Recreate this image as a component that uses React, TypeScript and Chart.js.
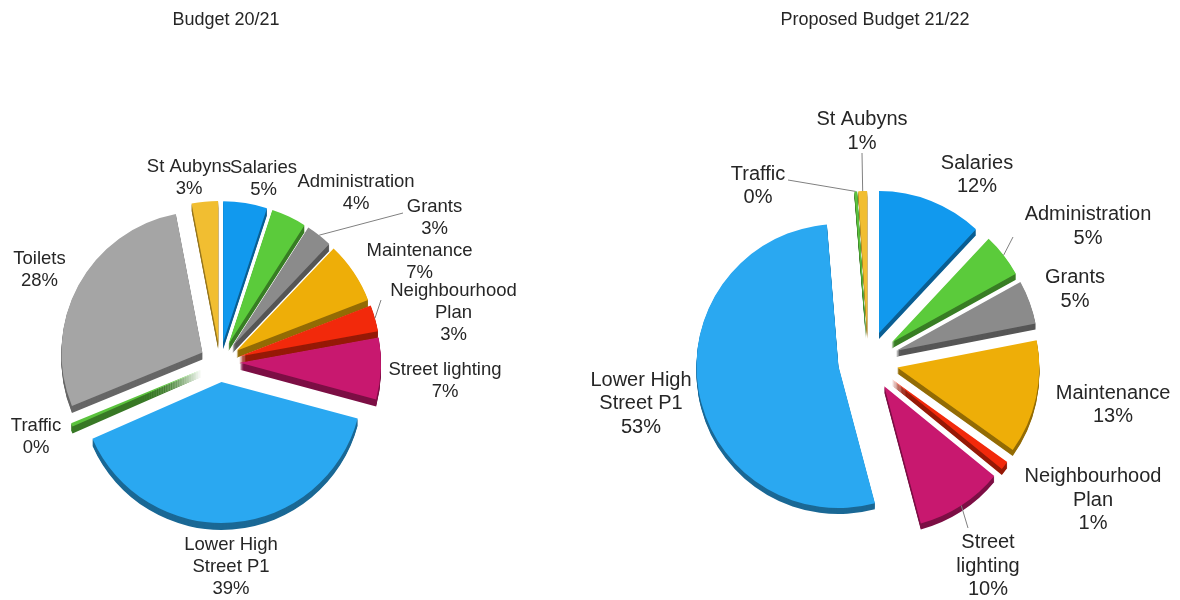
import React, { useEffect, useRef } from 'react';
import { Chart, registerables } from 'chart.js';

Chart.register(...registerables);

// ---------- DATA ----------
const TITLE_2021 = 'Budget 20/21';
const CATEGORIES_2021 = [
  'Salaries', 'Administration', 'Grants', 'Maintenance', 'Neighbourhood Plan',
  'Street lighting', 'Lower High Street P1', 'Traffic', 'Toilets', 'St Aubyns',
];
const VALUES_2021 = [5, 4, 3, 7, 3, 7, 39, 0.4, 28, 3];

const TITLE_2122 = 'Proposed Budget 21/22';
const CATEGORIES_2122 = [
  'Salaries', 'Administration', 'Grants', 'Maintenance', 'Neighbourhood Plan',
  'Street lighting', 'Lower High Street P1', 'Traffic', 'St Aubyns',
];
const VALUES_2122 = [12, 5, 5, 13, 1, 10, 53, 0.3, 1];

// ---------- STYLE ----------
const COLORS: Record<string, string> = {
  'Salaries': '#1199ee',
  'Administration': '#5bcb3b',
  'Grants': '#8b8b8b',
  'Maintenance': '#eeae08',
  'Neighbourhood Plan': '#f2290b',
  'Street lighting': '#c8186f',
  'Lower High Street P1': '#2aa8f1',
  'Traffic': '#5bc33d',
  'Toilets': '#a5a5a5',
  'St Aubyns': '#f1be31',
};
const TEXT_COLOR = '#262626';
const LEADER_COLOR = '#808080';
const FONT_FAMILY = '"Liberation Sans", Arial, sans-serif';

type Pt = [number, number];

interface PieLayout {
  width: number;
  height: number;
  padding: { left: number; right: number; top: number; bottom: number };
  radius: number;
  explode: number[];
  depth: number;
  labelFont: number;
  lineHeight: number;
  wrapWidth: number;
  labelPos: Pt[];
  leaders: (Pt | null)[];
  titleOffsetX: number;
  titleY: number;
}

const LAYOUT_2021: PieLayout = {
  width: 590,
  height: 600,
  padding: { left: 0, right: 150, top: 124, bottom: 0 },
  radius: 141,
  explode: [20, 20, 20, 20, 20, 20, 20, 20, 20, 20],
  depth: 7,
  labelFont: 18.5,
  lineHeight: 22,
  wrapWidth: 125,
  labelPos: [
    [43.5, -183.5], [136, -169.5], [214.5, -144.5], [199.5, -100.5], [233.5, -49],
    [225, 19], [11, 204.5], [-184, 75], [-180.5, -92.5], [-31, -184.5],
  ],
  leaders: [null, null, [-31.5, -4.5], null, [-72.5, -13], null, null, null, null, null],
  titleOffsetX: 6,
  titleY: 20,
};

const LAYOUT_2122: PieLayout = {
  width: 590,
  height: 600,
  padding: { left: 0, right: 34, top: 122, bottom: 0 },
  radius: 142,
  explode: [30, 30, 30, 30, 30, 30, 30, 28, 28],
  depth: 6,
  labelFont: 20,
  lineHeight: 23.5,
  wrapWidth: 110,
  labelPos: [
    [109, -186], [220, -134.5], [207, -71.5], [245, 44], [225, 139],
    [120, 205], [-227, 42.5], [-110, -175], [-6, -229.5],
  ],
  leaders: [null, [-75, 10.5], null, null, null, [-20, -38], null, [30, -6], [0, 21.5]],
  titleOffsetX: 7,
  titleY: 20,
};

function wrapText(ctx: CanvasRenderingContext2D, text: string, maxW: number): string[] {
  const words = text.split(' ');
  const lines: string[] = [];
  let cur = '';
  for (const w of words) {
    const test = cur ? cur + ' ' + w : w;
    if (cur && ctx.measureText(test).width > maxW) {
      lines.push(cur);
      cur = w;
    } else {
      cur = test;
    }
  }
  if (cur) lines.push(cur);
  return lines;
}

function makePie(canvas: HTMLCanvasElement, title: string, cats: string[], vals: number[], L: PieLayout) {
  const total = vals.reduce((a, b) => a + b, 0);

  const shiftOf = (arc: any, i: number): Pt => {
    const mid = (arc.startAngle + arc.endAngle) / 2;
    const o = L.explode[i] || 0;
    return [Math.cos(mid) * o, Math.sin(mid) * o];
  };

  const explode3d = {
    id: 'explode3d',
    beforeDatasetsDraw(chart: any) {
      const ctx: CanvasRenderingContext2D = chart.ctx;
      const arcs = chart.getDatasetMeta(0).data as any[];
      // sides (extrusion)
      ctx.save();
      ctx.filter = 'brightness(0.62)';
      for (let d = L.depth; d >= 1; d--) {
        arcs.forEach((a, i) => {
          const [dx, dy] = shiftOf(a, i);
          ctx.save();
          ctx.translate(dx, dy + d);
          a.draw(ctx);
          ctx.restore();
        });
      }
      ctx.restore();
      // tops
      arcs.forEach((a, i) => {
        const [dx, dy] = shiftOf(a, i);
        ctx.save();
        ctx.translate(dx, dy);
        a.draw(ctx);
        ctx.restore();
      });
      return false;
    },
  };

  const labels = {
    id: 'pieLabels',
    afterDraw(chart: any) {
      const ctx: CanvasRenderingContext2D = chart.ctx;
      const arcs = chart.getDatasetMeta(0).data as any[];
      const cx = arcs[0].x;
      const cy = arcs[0].y;
      ctx.save();
      ctx.fillStyle = TEXT_COLOR;
      ctx.textAlign = 'center';
      ctx.textBaseline = 'middle';
      ctx.font = `18px ${FONT_FAMILY}`;
      ctx.fillText(title, cx + L.titleOffsetX, L.titleY);

      ctx.font = `${L.labelFont}px ${FONT_FAMILY}`;
      arcs.forEach((a, i) => {
        const pct = Math.round((vals[i] / total) * 100);
        const lines = [...wrapText(ctx, cats[i], L.wrapWidth), `${pct}%`];
        const [lx, ly] = [cx + L.labelPos[i][0], cy + L.labelPos[i][1]];
        const n = lines.length;
        lines.forEach((t, k) => {
          ctx.fillText(t, lx, ly + (k - (n - 1) / 2) * L.lineHeight);
        });
        const lead = L.leaders[i];
        if (lead) {
          const [dx, dy] = shiftOf(a, i);
          const mid = (a.startAngle + a.endAngle) / 2;
          const sx = a.x + dx + Math.cos(mid) * a.outerRadius;
          const sy = a.y + dy + Math.sin(mid) * a.outerRadius;
          ctx.beginPath();
          ctx.strokeStyle = LEADER_COLOR;
          ctx.lineWidth = 1;
          ctx.moveTo(sx, sy);
          ctx.lineTo(lx + lead[0], ly + lead[1]);
          ctx.stroke();
        }
      });
      ctx.restore();
    },
  };

  return new Chart(canvas, {
    type: 'pie',
    data: {
      labels: cats,
      datasets: [
        {
          data: vals,
          backgroundColor: cats.map((c) => COLORS[c]),
          borderWidth: 0,
          offset: 0,
        },
      ],
    },
    options: {
      responsive: false,
      animation: false,
      events: [],
      radius: L.radius,
      layout: { padding: L.padding },
      plugins: {
        legend: { display: false },
        tooltip: { enabled: false },
        title: { display: false },
      },
    },
    plugins: [explode3d, labels],
  } as any);
}

export default function App() {
  const leftRef = useRef<HTMLCanvasElement>(null);
  const rightRef = useRef<HTMLCanvasElement>(null);

  useEffect(() => {
    const c1 = makePie(leftRef.current!, TITLE_2021, CATEGORIES_2021, VALUES_2021, LAYOUT_2021);
    const c2 = makePie(rightRef.current!, TITLE_2122, CATEGORIES_2122, VALUES_2122, LAYOUT_2122);
    return () => {
      c1.destroy();
      c2.destroy();
    };
  }, []);

  return (
    <div style={{ position: 'fixed', left: 0, top: 0, width: 1180, height: 600, background: '#fff' }}>
      <canvas
        ref={leftRef}
        width={LAYOUT_2021.width}
        height={LAYOUT_2021.height}
        style={{ position: 'absolute', left: 0, top: 0, width: LAYOUT_2021.width, height: LAYOUT_2021.height }}
      />
      <canvas
        ref={rightRef}
        width={LAYOUT_2122.width}
        height={LAYOUT_2122.height}
        style={{ position: 'absolute', left: 590, top: 0, width: LAYOUT_2122.width, height: LAYOUT_2122.height }}
      />
    </div>
  );
}
